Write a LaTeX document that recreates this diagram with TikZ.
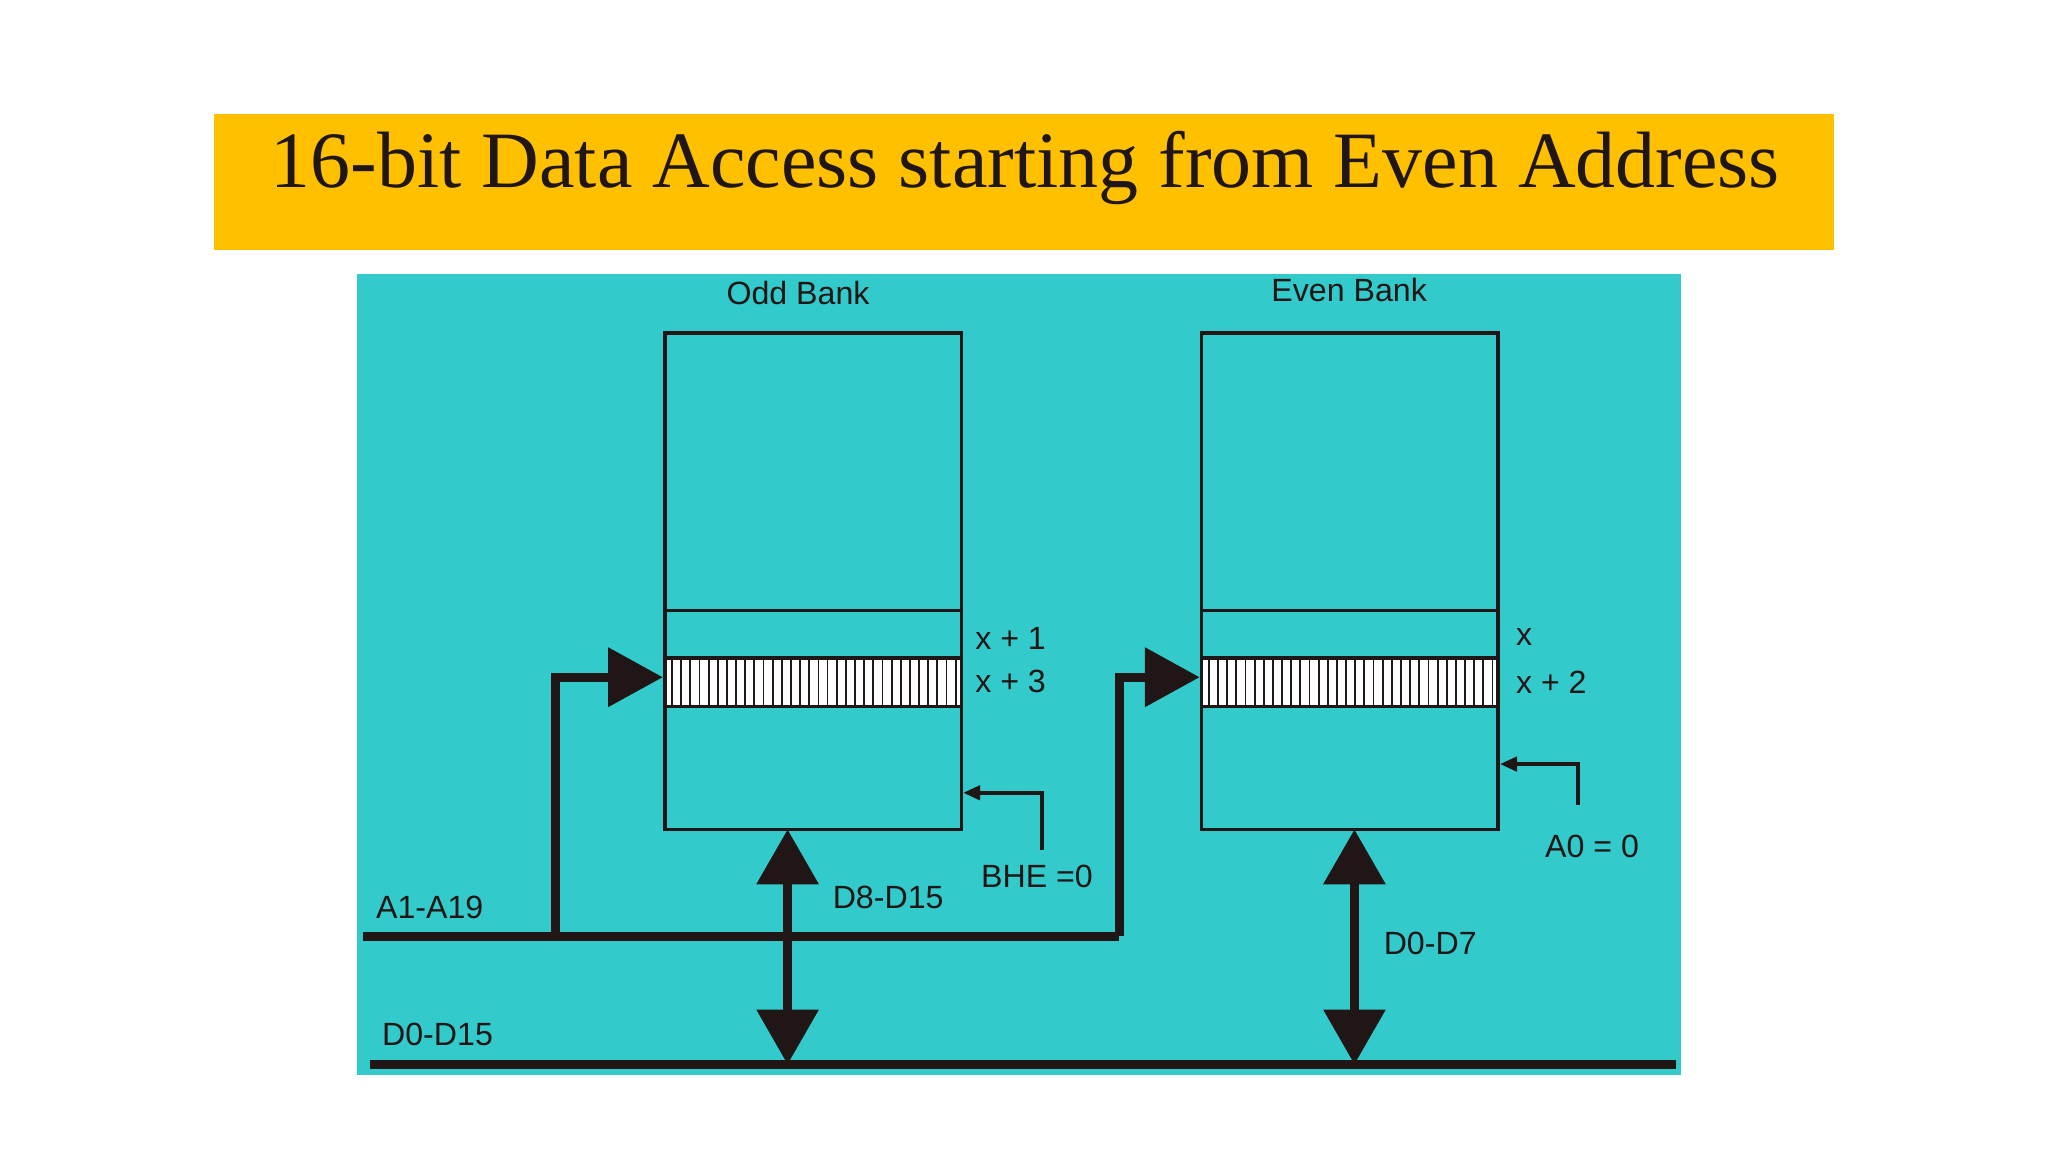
\documentclass[tikz,border=0pt]{standalone}
\usepackage{fontspec}
\setmainfont{Liberation Sans}
\newfontfamily\titlefont{Liberation Serif}
\usepackage{xcolor}
\usetikzlibrary{positioning,arrows.meta}
\definecolor{titlebar}{RGB}{255,192,0}
\definecolor{panelbg}{RGB}{51,202,204}
\definecolor{ink}{RGB}{32,22,22}

\begin{document}
\begin{tikzpicture}[x=0.01cm, y=-0.01cm,
  bank/.style={draw=ink, line width=0.8pt, minimum width=2.27cm, minimum height=3.8cm, inner sep=0pt},
  row/.style={draw=ink, line width=0.8pt, minimum width=2.27cm, minimum height=0.37cm, inner sep=0pt},
  lbl/.style={font=\fontsize{7}{8}\selectfont, text=ink, inner sep=0pt},
  bus/.style={draw=ink, line width=2pt},
  fat/.style={bus, -{Triangle[length=0.42cm, width=0.44cm]}},
  duplex/.style={bus, {Triangle[length=0.42cm, width=0.46cm]}-{Triangle[length=0.42cm, width=0.46cm]}},
  sig/.style={draw=ink, line width=0.8pt, -{Triangle[length=0.13cm, width=0.11cm]}}]
\useasboundingbox (0,0) rectangle (1568,882);
\fill[white] (0,0) rectangle (1568,882);
% title and background
\node[fill=titlebar, minimum width=12.4cm, minimum height=1.04cm, inner sep=0pt] (title) at (784,139) {};
\node[font=\titlefont\fontsize{17.4}{20}\selectfont, text=ink, inner sep=0pt] (titletext) at (785,129) {16-bit Data Access starting from Even Address};
\node[fill=panelbg, minimum width=10.13cm, minimum height=6.13cm, inner sep=0pt] (panel) at (780.5,516.5) {};
% the two banks
\node[bank] (oddbank) at (622.5,445) {};
\node[bank] (evenbank) at (1033.5,445) {};
\node[row] (oddrow) at (622.5,486) {};
\node[row] (evenrow) at (1033.5,486) {};
\node[row, fill=white] (oddhatch) at (622.5,522.5) {};
\node[row, fill=white] (evenhatch) at (1033.5,522.5) {};
\foreach \b in {odd,even}
  \foreach \i in {1,...,32}
    \draw[ink, line width=0.4pt] ([xshift=\i*0.07cm]\b hatch.north west) -- ([xshift=\i*0.07cm]\b hatch.south west);
\node[lbl] (oddname) at (611,224) {Odd Bank};
\node[lbl] (evenname) at (1033,222) {Even Bank};
\node[lbl, anchor=west] (x1) at (746,489) {x + 1};
\node[lbl, anchor=west] (x3) at (746,522) {x + 3};
\node[lbl, anchor=west] (x0) at (1160,488) {x};
\node[lbl, anchor=west] (x2) at (1160,522) {x + 2};
% address bus
\coordinate (aL) at (278,717);
\coordinate (aT) at (425,717);
\coordinate (aR) at (857,717);
\draw[bus] (aL) -- (aR);
\draw[fat] (aT) |- ([yshift=0.04cm]oddhatch.west);
\draw[fat] (aR) |- ([yshift=0.04cm]evenhatch.west);
\node[lbl] (abus) at (329,695) {A1-A19};
% data bus
\coordinate (dL) at (283,815);
\coordinate (dR) at (1283,815);
\draw[bus] (dL) -- (dR);
\node[lbl] (dbus) at (335,792) {D0-D15};
\coordinate (oddport) at (603,635);
\coordinate (evenport) at (1037,635);
\draw[duplex] (oddport) -- (oddport |- dL);
\draw[duplex] (evenport) -- (evenport |- dL);
\node[lbl] (dhigh) at (680,687) {D8-D15};
\node[lbl] (dlow) at (1095,722) {D0-D7};
% enables
\coordinate (bhe) at (798,651);
\coordinate (a0) at (1208,616);
\draw[sig] (bhe) |- (oddbank.east |- 0,607);
\draw[sig] (a0) |- (evenbank.east |- 0,585);
\node[lbl] (bhelbl) at (794,671) {BHE =0};
\node[lbl] (a0lbl) at (1219,648) {A0 = 0};
\end{tikzpicture}
\end{document}
